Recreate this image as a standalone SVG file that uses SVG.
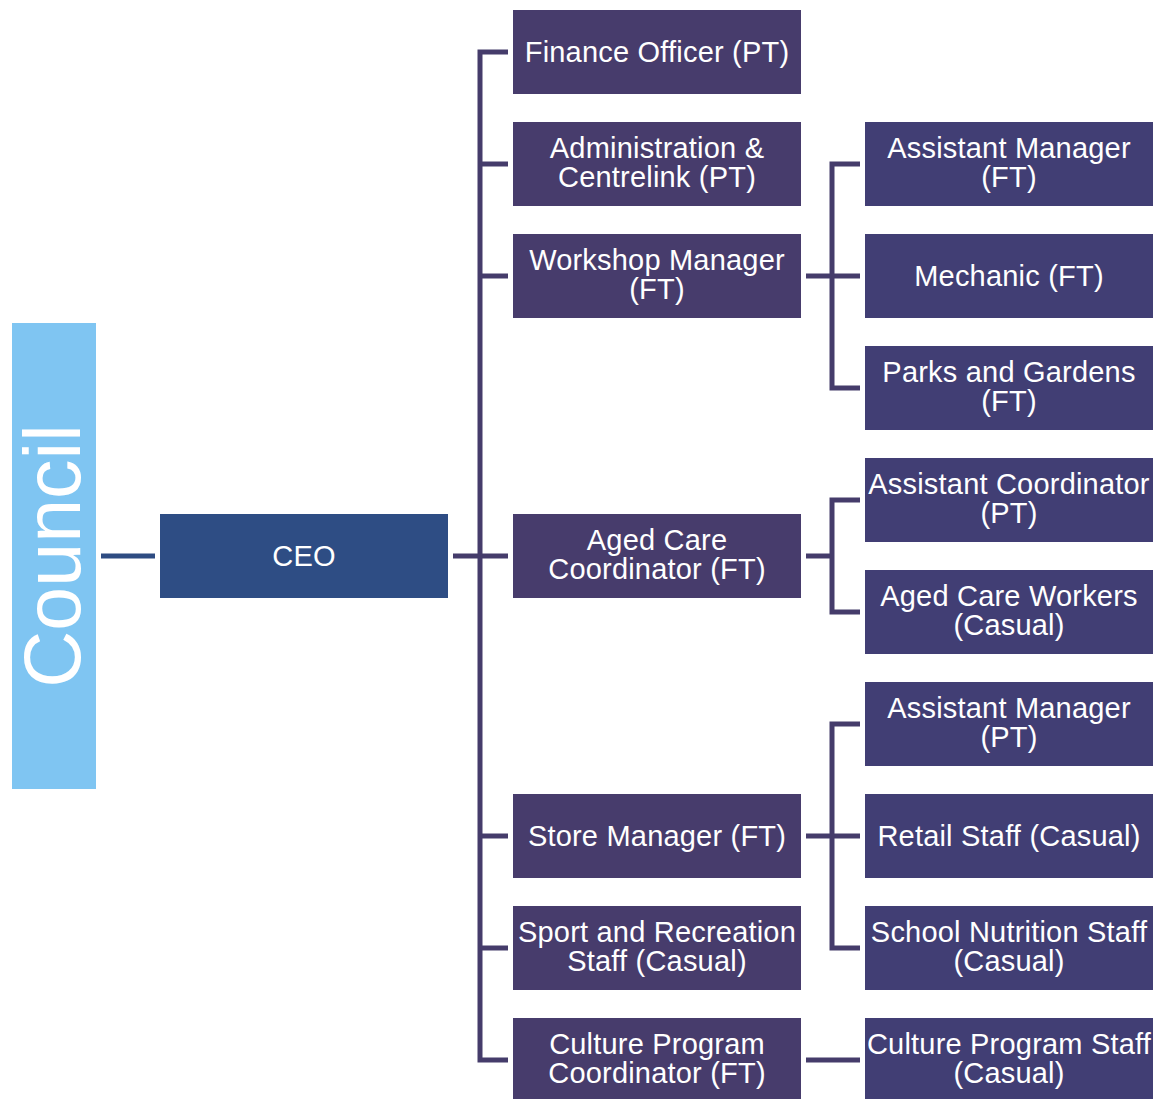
<svg xmlns="http://www.w3.org/2000/svg" width="1162" height="1099" viewBox="0 0 1162 1099">
<style>
.l2{fill:#473C6C}
.l3{fill:#413E74}
.t{fill:#fff;font-family:"Liberation Sans",Arial,sans-serif;font-size:29px;letter-spacing:0.2px;text-anchor:middle}
.c{stroke:#453C6B;stroke-width:5;fill:none}
</style>
<rect width="1162" height="1099" fill="#fff"/>
<g id="council">
<rect x="12" y="323" width="84" height="466" fill="#7FC5F2"/>
<text transform="translate(80,556) rotate(-90)" class="t" style="font-size:79px;letter-spacing:0">Council</text>
</g>
<g id="connectors">
<line x1="101" y1="556" x2="155" y2="556" stroke="#2E4C82" stroke-width="5"/>
<line class="c" x1="453" y1="556" x2="508" y2="556"/>
<polyline class="c" points="508,52 480,52 480,1060 508,1060"/>
<line class="c" x1="480" y1="164" x2="508" y2="164"/>
<line class="c" x1="480" y1="276" x2="508" y2="276"/>
<line class="c" x1="480" y1="836" x2="508" y2="836"/>
<line class="c" x1="480" y1="948" x2="508" y2="948"/>
<line class="c" x1="806" y1="276" x2="860" y2="276"/>
<polyline class="c" points="860,164 832,164 832,388 860,388"/>
<line class="c" x1="806" y1="556" x2="832" y2="556"/>
<polyline class="c" points="860,500 832,500 832,612 860,612"/>
<line class="c" x1="806" y1="836" x2="860" y2="836"/>
<polyline class="c" points="860,724 832,724 832,948 860,948"/>
<line class="c" x1="806" y1="1060" x2="860" y2="1060"/>
</g>
<g id="ceo">
<rect x="160" y="514" width="288" height="84" fill="#2E4D84"/>
<text x="304" y="566" class="t">CEO</text>
</g>
<g id="finance"><rect class="l2" x="513" y="10" width="288" height="84"/><text x="657" y="62" class="t">Finance Officer (PT)</text></g>
<g id="admin"><rect class="l2" x="513" y="122" width="288" height="84"/><text x="657" y="158" class="t">Administration &amp;</text><text x="657" y="187" class="t">Centrelink (PT)</text></g>
<g id="workshop"><rect class="l2" x="513" y="234" width="288" height="84"/><text x="657" y="270" class="t">Workshop Manager</text><text x="657" y="299" class="t">(FT)</text></g>
<g id="agedcare"><rect class="l2" x="513" y="514" width="288" height="84"/><text x="657" y="550" class="t">Aged Care</text><text x="657" y="579" class="t">Coordinator (FT)</text></g>
<g id="store"><rect class="l2" x="513" y="794" width="288" height="84"/><text x="657" y="846" class="t">Store Manager (FT)</text></g>
<g id="sport"><rect class="l2" x="513" y="906" width="288" height="84"/><text x="657" y="942" class="t">Sport and Recreation</text><text x="657" y="971" class="t">Staff (Casual)</text></g>
<g id="culture"><rect class="l2" x="513" y="1018" width="288" height="84"/><text x="657" y="1054" class="t">Culture Program</text><text x="657" y="1083" class="t">Coordinator (FT)</text></g>
<g id="asstmgrft"><rect class="l3" x="865" y="122" width="288" height="84"/><text x="1009" y="158" class="t">Assistant Manager</text><text x="1009" y="187" class="t">(FT)</text></g>
<g id="mechanic"><rect class="l3" x="865" y="234" width="288" height="84"/><text x="1009" y="286" class="t">Mechanic (FT)</text></g>
<g id="parks"><rect class="l3" x="865" y="346" width="288" height="84"/><text x="1009" y="382" class="t">Parks and Gardens</text><text x="1009" y="411" class="t">(FT)</text></g>
<g id="asstcoord"><rect class="l3" x="865" y="458" width="288" height="84"/><text x="1009" y="494" class="t">Assistant Coordinator</text><text x="1009" y="523" class="t">(PT)</text></g>
<g id="agedworkers"><rect class="l3" x="865" y="570" width="288" height="84"/><text x="1009" y="606" class="t">Aged Care Workers</text><text x="1009" y="635" class="t">(Casual)</text></g>
<g id="asstmgrpt"><rect class="l3" x="865" y="682" width="288" height="84"/><text x="1009" y="718" class="t">Assistant Manager</text><text x="1009" y="747" class="t">(PT)</text></g>
<g id="retail"><rect class="l3" x="865" y="794" width="288" height="84"/><text x="1009" y="846" class="t">Retail Staff (Casual)</text></g>
<g id="nutrition"><rect class="l3" x="865" y="906" width="288" height="84"/><text x="1009" y="942" class="t">School Nutrition Staff</text><text x="1009" y="971" class="t">(Casual)</text></g>
<g id="culturestaff"><rect class="l3" x="865" y="1018" width="288" height="84"/><text x="1009" y="1054" class="t">Culture Program Staff</text><text x="1009" y="1083" class="t">(Casual)</text></g>
</svg>
